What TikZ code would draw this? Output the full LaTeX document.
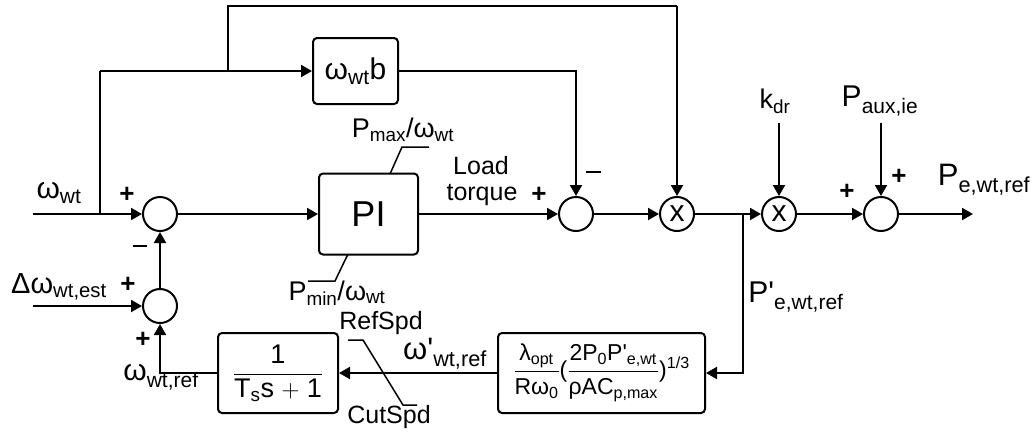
\documentclass[tikz,border=0pt]{standalone}
\usepackage{fontspec}
\setmainfont{Liberation Sans}
\newfontfamily\plainfont{Liberation Sans}
\usetikzlibrary{arrows.meta}
\newcommand{\sbs}[1]{\textsubscript{#1}}
\newcommand{\qt}{{\plainfont '}}
\newcommand{\myfr}[2]{$\displaystyle\frac{\hbox{#1}}{\hbox{#2}}$}
\begin{document}
\begin{tikzpicture}[x=1pt,y=1pt, line width=2pt,
  sumc/.style={draw,circle,minimum size=34pt,inner sep=0pt,fill=white,font=\fontsize{30}{32}\selectfont},
  blk/.style={draw,rounded corners=4pt,inner sep=0pt,fill=white},
  arr/.style={-{Triangle[length=11pt,width=12pt]}},
  lbl/.style={inner sep=0pt,font=\fontsize{27}{30}\selectfont},
  big/.style={inner sep=0pt,font=\fontsize{30}{32}\selectfont},
  sgn/.style={inner sep=0pt,font=\bfseries\fontsize{26}{28}\selectfont},
  thin/.style={line width=1.5pt}]
\useasboundingbox (0,0) rectangle (1032,-432);
% blocks
\node[sumc] (s1) at (160,-214) {};
\node[sumc] (s4) at (160,-306) {};
\node[sumc] (s2) at (576,-214) {};
\node[sumc] (m1) at (677,-214) {x};
\node[sumc] (m2) at (779,-214) {x};
\node[sumc] (s3) at (881,-214) {};
\node[blk,minimum width=99pt,minimum height=81pt,font=\fontsize{36}{40}\selectfont] (pi) at (368.5,-214) {PI};
\node[blk,minimum width=85pt,minimum height=66pt,font=\fontsize{30}{34}\selectfont] (wb) at (355.5,-71) {ω\sbs{wt}b};
\node[blk,minimum width=120pt,minimum height=80pt,font=\fontsize{27}{30}\selectfont] (tf) at (278,-373) {\myfr{1}{T\sbs{s}s $+$ 1}};
\node[blk,minimum width=207pt,minimum height=80pt,font=\fontsize{23}{26}\selectfont] (fm) at (601.5,-373)
  {\myfr{λ\sbs{opt}}{Rω\sbs{0}}(\myfr{2P\sbs{0}P\qt\sbs{e,wt}}{ρAC\sbs{p,max}})\textsuperscript{1/3}};
% coordinates
\coordinate (win) at (33,-214);
\coordinate (din) at (33,-306);
\coordinate (j1) at (100,-214);
\coordinate (j1t) at (100,-71);
\coordinate (j2) at (228,-71);
\coordinate (j2t) at (228,-6);
\coordinate (tr) at (677,-6);
\coordinate (wbr) at (576,-71);
\coordinate (bp) at (743,-214);
\coordinate (bpb) at (743,-373);
\coordinate (kin) at (779,-123);
\coordinate (pin) at (881,-123);
\coordinate (out) at (973,-214);
\coordinate (tfl) at (160,-373);
% connectors
\draw[arr] (win) -- (s1.west);
\draw (j1) -- (j1t);
\draw[arr] (j1t) -- (wb.west);
\draw (j2) -- (j2t) -- (tr);
\draw[arr] (tr) -- (m1.north);
\draw[arr] (wb.east) -- (wbr) -- (s2.north);
\draw[arr] (s1.east) -- (pi.west);
\draw[arr] (pi.east) -- (s2.west);
\draw[arr] (s2.east) -- (m1.west);
\draw[arr] (m1.east) -- (m2.west);
\draw[arr] (m2.east) -- (s3.west);
\draw[arr] (s3.east) -- (out);
\draw[arr] (kin) -- (m2.north);
\draw[arr] (pin) -- (s3.north);
\draw[arr] (bp) -- (bpb) -- (fm.east);
\draw[arr] (fm.west) -- (tf.east);
\draw[arr] (tf.west) -- (tfl) -- (s4.south);
\draw[arr] (s4.north) -- (s1.south);
\draw[arr] (din) -- (s4.west);
% limiter lines
\draw[thin] (390,-174) -- (402,-147) -- (429,-147);
\draw[thin] (348,-254) -- (335,-281) -- (308,-281);
\draw[thin] (348,-340) -- (363,-340) -- (403,-405) -- (417,-405);
% labels
\node[big] (lw) at (59,-193) {ω\sbs{wt}};
\node[sgn] (p1) at (127,-195) {+};
\node[inner sep=0pt] (n1) at (140,-246) {\rule{14pt}{2.6pt}};
\node[lbl,font=\fontsize{29}{30}\selectfont] (ld) at (59,-287) {Δω\sbs{wt,est}};
\node[sgn] (p2) at (128,-285) {+};
\node[sgn] (p3) at (143,-340) {+};
\node[big] (lr) at (161,-377) {ω\sbs{wt,ref}};
\node[lbl,font=\fontsize{25}{28}\selectfont] (ll) at (481,-166) {Load};
\node[lbl,font=\fontsize{25}{28}\selectfont] (lt) at (482,-195) {torque};
\node[sgn] (p4) at (539,-195) {+};
\node[inner sep=0pt] (n2) at (593,-172) {\rule{15pt}{2.6pt}};
\node[lbl] (lmax) at (403,-130) {P\sbs{max}/ω\sbs{wt}};
\node[lbl] (lmin) at (337,-293) {P\sbs{min}/ω\sbs{wt}};
\node[lbl,font=\fontsize{25}{28}\selectfont] (lref) at (381,-323) {RefSpd};
\node[lbl,font=\fontsize{25}{28}\selectfont] (lcut) at (389,-417) {CutSpd};
\node[big,font=\fontsize{31}{32}\selectfont] (lwp) at (445,-354) {ω\qt\sbs{wt,ref}};
\node[lbl] (lk) at (775,-101) {k\sbs{dr}};
\node[big] (la) at (880,-101) {P\sbs{aux,ie}};
\node[big,font=\fontsize{31}{32}\selectfont] (lo) at (984,-180) {P\sbs{e,wt,ref}};
\node[big] (lp) at (796,-297) {P\qt\sbs{e,wt,ref}};
\node[sgn] (p5) at (899,-177) {+};
\node[sgn] (p6) at (847,-192) {+};
\end{tikzpicture}
\end{document}
